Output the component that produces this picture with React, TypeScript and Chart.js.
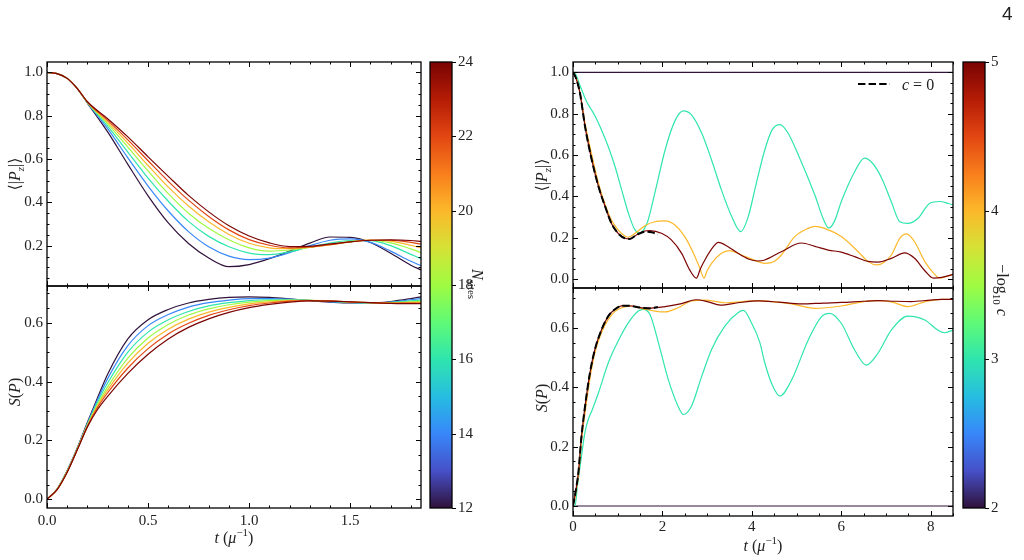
import React, { useEffect, useRef } from "react";
import { Chart, registerables } from "chart.js";

Chart.register(...registerables);

const W = 1024;
const H = 560;
const FONT = '"Liberation Serif", "DejaVu Serif", serif';
const INK = "#222";

// ---------- left column: system-size scan ----------
const N_SITES = [12, 14, 16, 18, 20, 22, 24];

const T_PZ = [0, 0.05, 0.1, 0.15, 0.2, 0.3, 0.4, 0.5, 0.6, 0.7, 0.8, 0.9, 1.0, 1.1, 1.2, 1.3, 1.4, 1.5, 1.6, 1.7, 1.8, 1.85];
const PZ_N12 = [1, 0.994, 0.972, 0.925, 0.858, 0.725, 0.575, 0.43, 0.305, 0.21, 0.143, 0.103, 0.113, 0.14, 0.175, 0.212, 0.24, 0.238, 0.215, 0.165, 0.11, 0.088];
const PZ_N14 = [1, 0.994, 0.972, 0.925, 0.859, 0.74, 0.605, 0.475, 0.36, 0.265, 0.195, 0.152, 0.136, 0.143, 0.168, 0.2, 0.225, 0.231, 0.215, 0.175, 0.128, 0.108];
const PZ_N16 = [1, 0.994, 0.972, 0.925, 0.86, 0.752, 0.632, 0.512, 0.405, 0.312, 0.243, 0.195, 0.166, 0.159, 0.172, 0.194, 0.212, 0.224, 0.223, 0.2, 0.16, 0.14];
const PZ_N18 = [1, 0.994, 0.972, 0.925, 0.861, 0.762, 0.655, 0.545, 0.44, 0.35, 0.28, 0.227, 0.19, 0.175, 0.18, 0.192, 0.206, 0.219, 0.225, 0.213, 0.185, 0.168];
const PZ_N20 = [1, 0.994, 0.972, 0.925, 0.862, 0.77, 0.673, 0.57, 0.47, 0.383, 0.31, 0.252, 0.211, 0.19, 0.186, 0.193, 0.204, 0.218, 0.226, 0.221, 0.202, 0.19];
const PZ_N22 = [1, 0.994, 0.972, 0.925, 0.863, 0.778, 0.688, 0.592, 0.497, 0.41, 0.335, 0.273, 0.228, 0.202, 0.19, 0.194, 0.205, 0.217, 0.225, 0.225, 0.215, 0.207];
const PZ_N24 = [1, 0.994, 0.972, 0.925, 0.864, 0.786, 0.702, 0.61, 0.52, 0.432, 0.356, 0.292, 0.245, 0.213, 0.196, 0.197, 0.208, 0.218, 0.225, 0.227, 0.224, 0.22];

const T_S = [0, 0.05, 0.1, 0.15, 0.2, 0.25, 0.3, 0.4, 0.5, 0.6, 0.7, 0.8, 0.9, 1.0, 1.1, 1.2, 1.3, 1.4, 1.5, 1.6, 1.7, 1.8, 1.85];
const S_N12 = [0, 0.035, 0.098, 0.175, 0.262, 0.345, 0.425, 0.545, 0.61, 0.645, 0.667, 0.679, 0.686, 0.688, 0.686, 0.681, 0.675, 0.67, 0.667, 0.667, 0.672, 0.682, 0.688];
const S_N14 = [0, 0.035, 0.097, 0.173, 0.258, 0.338, 0.41, 0.522, 0.59, 0.628, 0.653, 0.668, 0.677, 0.682, 0.682, 0.68, 0.676, 0.671, 0.668, 0.667, 0.67, 0.678, 0.682];
const S_N16 = [0, 0.035, 0.096, 0.172, 0.255, 0.33, 0.395, 0.5, 0.568, 0.61, 0.638, 0.657, 0.668, 0.675, 0.678, 0.678, 0.676, 0.672, 0.669, 0.667, 0.669, 0.674, 0.677];
const S_N18 = [0, 0.034, 0.095, 0.171, 0.252, 0.323, 0.382, 0.48, 0.548, 0.594, 0.626, 0.647, 0.661, 0.67, 0.675, 0.677, 0.676, 0.673, 0.67, 0.668, 0.668, 0.671, 0.673];
const S_N20 = [0, 0.034, 0.094, 0.17, 0.25, 0.318, 0.372, 0.463, 0.53, 0.578, 0.612, 0.636, 0.652, 0.664, 0.671, 0.675, 0.676, 0.674, 0.671, 0.668, 0.667, 0.669, 0.67];
const S_N22 = [0, 0.033, 0.093, 0.169, 0.248, 0.312, 0.362, 0.446, 0.512, 0.562, 0.598, 0.625, 0.644, 0.658, 0.667, 0.673, 0.675, 0.674, 0.671, 0.668, 0.666, 0.667, 0.667];
const S_N24 = [0, 0.033, 0.092, 0.168, 0.246, 0.305, 0.35, 0.428, 0.493, 0.545, 0.584, 0.613, 0.635, 0.651, 0.662, 0.67, 0.674, 0.673, 0.671, 0.668, 0.666, 0.665, 0.665];

const PZ_BY_N = [PZ_N12, PZ_N14, PZ_N16, PZ_N18, PZ_N20, PZ_N22, PZ_N24];
const S_BY_N = [S_N12, S_N14, S_N16, S_N18, S_N20, S_N22, S_N24];

// ---------- right column: coupling scan at fixed size ([t, value]) ----------
const NEG_LOG_C = [2, 3, 4, 5];

const PZ_C0: [number, number][] = [[0, 1], [0.05, 0.98], [0.1, 0.95], [0.16, 0.895], [0.27, 0.737], [0.42, 0.576], [0.57, 0.447], [0.72, 0.35], [0.86, 0.269], [1.01, 0.221], [1.16, 0.197], [1.27, 0.194], [1.42, 0.213], [1.61, 0.229], [1.76, 0.226], [1.9, 0.216]];
const PZ_C2: [number, number][] = [[0, 1], [8.5, 1]];
const PZ_C3: [number, number][] = [[0, 1.0], [0.05, 0.995], [0.15, 0.94], [0.3, 0.86], [0.38, 0.83], [0.49, 0.79], [0.64, 0.72], [0.79, 0.64], [0.94, 0.544], [1.09, 0.43], [1.24, 0.318], [1.38, 0.24], [1.5, 0.222], [1.6, 0.245], [1.68, 0.285], [1.83, 0.415], [2.06, 0.624], [2.28, 0.765], [2.47, 0.813], [2.65, 0.794], [2.88, 0.705], [3.1, 0.576], [3.32, 0.431], [3.55, 0.302], [3.75, 0.229], [3.92, 0.302], [4.1, 0.463], [4.29, 0.624], [4.45, 0.72], [4.63, 0.747], [4.8, 0.71], [5.04, 0.6], [5.41, 0.406], [5.6, 0.29], [5.72, 0.247], [5.85, 0.28], [6.0, 0.374], [6.3, 0.519], [6.52, 0.585], [6.7, 0.56], [6.9, 0.49], [7.12, 0.374], [7.31, 0.277], [7.49, 0.269], [7.72, 0.294], [7.98, 0.366], [8.2, 0.375], [8.4, 0.365], [8.5, 0.358]];
const PZ_C4: [number, number][] = [[0, 1], [0.05, 0.985], [0.1, 0.955], [0.17, 0.885], [0.27, 0.753], [0.42, 0.6], [0.57, 0.463], [0.72, 0.36], [0.86, 0.285], [1.0, 0.24], [1.1, 0.218], [1.23, 0.202], [1.39, 0.221], [1.61, 0.258], [1.83, 0.277], [2.06, 0.281], [2.28, 0.261], [2.5, 0.205], [2.73, 0.108], [2.85, 0.045], [2.93, 0.004], [3.0, 0.04], [3.1, 0.076], [3.32, 0.124], [3.5, 0.137], [3.77, 0.116], [4.07, 0.09], [4.29, 0.076], [4.5, 0.085], [4.66, 0.116], [4.96, 0.205], [5.26, 0.245], [5.41, 0.255], [5.63, 0.245], [6.0, 0.205], [6.38, 0.132], [6.6, 0.084], [6.8, 0.068], [6.95, 0.08], [7.12, 0.116], [7.31, 0.197], [7.46, 0.218], [7.64, 0.18], [7.87, 0.084], [8.08, 0.025], [8.2, 0.004], [8.35, 0.012], [8.5, 0.022]];
const PZ_C5: [number, number][] = [[0, 1], [0.05, 0.98], [0.1, 0.95], [0.16, 0.895], [0.27, 0.737], [0.42, 0.576], [0.57, 0.447], [0.72, 0.35], [0.86, 0.269], [1.01, 0.221], [1.16, 0.197], [1.27, 0.194], [1.42, 0.213], [1.6, 0.232], [1.72, 0.234], [1.98, 0.221], [2.2, 0.189], [2.43, 0.124], [2.61, 0.044], [2.76, 0.004], [2.85, 0.05], [2.95, 0.092], [3.14, 0.156], [3.25, 0.177], [3.47, 0.156], [3.69, 0.124], [3.92, 0.097], [4.14, 0.087], [4.29, 0.092], [4.66, 0.132], [5.11, 0.174], [5.41, 0.158], [5.71, 0.14], [6.0, 0.13], [6.3, 0.108], [6.6, 0.085], [6.82, 0.082], [7.12, 0.1], [7.42, 0.126], [7.64, 0.1], [7.87, 0.04], [8.06, 0.004], [8.25, 0.008], [8.4, 0.016], [8.5, 0.022]];

const S_C0: [number, number][] = [[0, 0], [0.06, 0.05], [0.12, 0.112], [0.19, 0.235], [0.27, 0.336], [0.38, 0.449], [0.49, 0.527], [0.64, 0.594], [0.79, 0.639], [0.94, 0.662], [1.12, 0.674], [1.31, 0.673], [1.53, 0.667], [1.72, 0.665], [1.9, 0.67]];
const S_C2: [number, number][] = [[0, 0], [8.5, 0]];
const S_C3: [number, number][] = [[0, 0], [0.045, 0.0], [0.1, 0.07], [0.16, 0.135], [0.27, 0.25], [0.35, 0.295], [0.42, 0.32], [0.57, 0.381], [0.79, 0.482], [1.01, 0.555], [1.24, 0.617], [1.46, 0.656], [1.57, 0.662], [1.72, 0.645], [1.91, 0.55], [2.13, 0.426], [2.35, 0.336], [2.47, 0.308], [2.65, 0.336], [2.88, 0.437], [3.1, 0.527], [3.4, 0.606], [3.69, 0.65], [3.81, 0.658], [3.99, 0.617], [4.18, 0.55], [4.29, 0.482], [4.45, 0.41], [4.63, 0.37], [4.89, 0.424], [5.26, 0.558], [5.56, 0.637], [5.74, 0.648], [6.0, 0.615], [6.3, 0.525], [6.56, 0.474], [6.82, 0.514], [7.12, 0.592], [7.49, 0.639], [7.87, 0.626], [8.16, 0.592], [8.31, 0.583], [8.5, 0.592]];
const S_C4: [number, number][] = [[0, 0], [0.06, 0.04], [0.12, 0.1], [0.19, 0.22], [0.27, 0.314], [0.38, 0.43], [0.49, 0.516], [0.64, 0.585], [0.79, 0.628], [0.94, 0.655], [1.09, 0.667], [1.31, 0.673], [1.61, 0.662], [1.83, 0.656], [2.06, 0.653], [2.35, 0.667], [2.65, 0.69], [2.95, 0.693], [3.4, 0.684], [3.8, 0.688], [4.14, 0.691], [4.5, 0.687], [4.89, 0.68], [5.41, 0.665], [6.0, 0.673], [6.4, 0.685], [6.75, 0.691], [7.12, 0.687], [7.49, 0.671], [7.87, 0.687], [8.24, 0.695], [8.5, 0.695]];
const S_C5: [number, number][] = [[0, 0], [0.06, 0.05], [0.12, 0.112], [0.19, 0.235], [0.27, 0.336], [0.38, 0.449], [0.49, 0.527], [0.64, 0.594], [0.79, 0.639], [0.94, 0.662], [1.12, 0.674], [1.31, 0.673], [1.53, 0.667], [1.75, 0.666], [2.06, 0.671], [2.43, 0.681], [2.75, 0.694], [3.0, 0.688], [3.3, 0.676], [3.69, 0.684], [4.14, 0.69], [4.6, 0.686], [5.11, 0.68], [5.6, 0.683], [6.0, 0.685], [6.5, 0.689], [6.82, 0.691], [7.2, 0.689], [7.57, 0.688], [8.0, 0.693], [8.24, 0.695], [8.5, 0.695]];

// ---------- tick labels ----------
const X_TICKS_LEFT = [0, 0.5, 1.0, 1.5];
const X_TICKS_RIGHT = [0, 2, 4, 6, 8];
const Y_TICKS_PZ_LEFT = [0.2, 0.4, 0.6, 0.8, 1.0];
const Y_TICKS_S = [0, 0.2, 0.4, 0.6];
const Y_TICKS_PZ_RIGHT = [0, 0.2, 0.4, 0.6, 0.8, 1.0];
const CBAR_N_TICKS = [12, 14, 16, 18, 20, 22, 24];
const CBAR_C_TICKS = [2, 3, 4, 5];

// ---------- turbo colour map ----------
const TURBO_STOPS: number[][] = [
  [0, 48, 18, 59],
  [1 / 12, 70, 80, 200],
  [1 / 6, 56, 135, 249],
  [1 / 4, 38, 189, 225],
  [1 / 3, 47, 229, 173],
  [5 / 12, 95, 250, 118],
  [1 / 2, 160, 251, 65],
  [7 / 12, 213, 226, 54],
  [2 / 3, 252, 184, 42],
  [3 / 4, 248, 126, 28],
  [5 / 6, 226, 70, 18],
  [11 / 12, 180, 28, 5],
  [1, 122, 4, 3],
];

function turbo(x: number): string {
  const v = Math.min(1, Math.max(0, x));
  for (let i = 1; i < TURBO_STOPS.length; i++) {
    const a = TURBO_STOPS[i - 1];
    const b = TURBO_STOPS[i];
    if (v <= b[0]) {
      const f = (v - a[0]) / (b[0] - a[0]);
      const c = [1, 2, 3].map((k) => Math.round(a[k] + (b[k] - a[k]) * f));
      return `rgb(${c[0]},${c[1]},${c[2]})`;
    }
  }
  return "rgb(122,4,3)";
}

// ---------- mixed-style text (math-like labels) ----------
type Run = { s: string; it?: boolean; sub?: boolean; sup?: boolean };

const PZ_TITLE: Run[] = [{ s: "⟨|" }, { s: "P", it: true }, { s: "z", it: true, sub: true }, { s: "|⟩" }];
const S_TITLE: Run[] = [{ s: "S", it: true }, { s: "(" }, { s: "P", it: true }, { s: ")" }];
const T_TITLE: Run[] = [{ s: "t", it: true }, { s: " (" }, { s: "μ", it: true }, { s: "−1", sup: true }, { s: ")" }];
const N_TITLE: Run[] = [{ s: "N", it: true }, { s: "sites", sub: true }];
const C_TITLE: Run[] = [{ s: "−log" }, { s: "10", sub: true }, { s: " " }, { s: "c", it: true }];
const LEGEND_C0: Run[] = [{ s: "c", it: true }, { s: " = 0" }];

function drawRuns(ctx: CanvasRenderingContext2D, runs: Run[], x: number, y: number, rot: number, size: number, align: "center" | "left") {
  const fontOf = (r: Run) => `${r.it ? "italic " : ""}${r.sub || r.sup ? Math.round(size * 0.7) : size}px ${FONT}`;
  ctx.save();
  ctx.translate(x, y);
  ctx.rotate(rot);
  ctx.fillStyle = INK;
  ctx.textBaseline = "alphabetic";
  ctx.textAlign = "left";
  const widths = runs.map((r) => {
    ctx.font = fontOf(r);
    return ctx.measureText(r.s).width;
  });
  const total = widths.reduce((a, b) => a + b, 0);
  let cx = align === "center" ? -total / 2 : 0;
  const base = size * 0.35;
  runs.forEach((r, i) => {
    ctx.font = fontOf(r);
    const dy = r.sub ? size * 0.28 : r.sup ? -size * 0.4 : 0;
    ctx.fillText(r.s, cx, base + dy);
    cx += widths[i];
  });
  ctx.restore();
}

// ---------- frame, inward ticks, and extra annotations ----------
type Box = { left: number; top: number; right: number; bottom: number };

const Y_AXIS_W = 46;
const X_AXIS_H = 30;
const CBAR_AXIS_W = 34;

function panelDecor(xMinor: number, yMinor: number, extra?: (ctx: CanvasRenderingContext2D) => void) {
  return {
    id: "panelDecor",
    afterDraw(chart: any) {
      const { ctx, chartArea: a } = chart;
      const xs = chart.scales.x;
      const ys = chart.scales.y;
      ctx.save();
      ctx.strokeStyle = "#000";
      ctx.lineWidth = 1;
      ctx.beginPath();
      const xTick = (v: number, len: number) => {
        const p = Math.round(xs.getPixelForValue(v)) + 0.5;
        ctx.moveTo(p, a.bottom);
        ctx.lineTo(p, a.bottom - len);
        ctx.moveTo(p, a.top);
        ctx.lineTo(p, a.top + len);
      };
      const yTick = (v: number, len: number) => {
        const p = Math.round(ys.getPixelForValue(v)) + 0.5;
        ctx.moveTo(a.left, p);
        ctx.lineTo(a.left + len, p);
        ctx.moveTo(a.right, p);
        ctx.lineTo(a.right - len, p);
      };
      const majorX = xs.ticks.map((t: any) => t.value);
      const majorY = ys.ticks.map((t: any) => t.value);
      majorX.forEach((v: number) => xTick(v, 5));
      majorY.forEach((v: number) => yTick(v, 5));
      const isMajor = (list: number[], v: number, step: number) => list.some((m) => Math.abs(m - v) < step * 0.01);
      for (let k = Math.ceil(xs.min / xMinor); k * xMinor <= xs.max + 1e-9; k++) {
        const v = k * xMinor;
        if (!isMajor(majorX, v, xMinor)) xTick(v, 2.5);
      }
      for (let k = Math.ceil(ys.min / yMinor); k * yMinor <= ys.max + 1e-9; k++) {
        const v = k * yMinor;
        if (!isMajor(majorY, v, yMinor)) yTick(v, 2.5);
      }
      ctx.stroke();
      ctx.lineWidth = 1.3;
      ctx.strokeRect(a.left, a.top, a.right - a.left, a.bottom - a.top);
      ctx.restore();
      if (extra) extra(ctx);
    },
  };
}

function fixedTicks(values: number[]) {
  return (scale: any) => {
    scale.ticks = values.map((v) => ({ value: v }));
  };
}

type PanelSpec = {
  box: Box;
  datasets: any[];
  xRange: [number, number];
  yRange: [number, number];
  xTicks: number[];
  yTicks: number[];
  xDigits: number;
  showX: boolean;
  xMinor: number;
  yMinor: number;
  xPad: number;
  extra?: (ctx: CanvasRenderingContext2D) => void;
};

const NO_GRID = { display: false, drawTicks: false, tickLength: 0 };

function panelConfig(p: PanelSpec): any {
  const tickFont = { family: FONT, size: 15 };
  return {
    type: "line",
    data: { datasets: p.datasets },
    options: {
      animation: false,
      responsive: false,
      events: [],
      layout: {
        padding: {
          left: p.box.left - Y_AXIS_W,
          top: p.box.top,
          right: W - p.box.right,
          bottom: H - p.box.bottom - X_AXIS_H,
        },
      },
      plugins: { legend: { display: false }, tooltip: { enabled: false } },
      elements: { point: { radius: 0 }, line: { borderWidth: 1.2, cubicInterpolationMode: "monotone" } },
      scales: {
        x: {
          type: "linear",
          min: p.xRange[0],
          max: p.xRange[1],
          grid: NO_GRID,
          border: { display: false },
          afterBuildTicks: fixedTicks(p.xTicks),
          afterFit: (s: any) => {
            s.height = X_AXIS_H;
          },
          ticks: {
            display: p.showX,
            font: tickFont,
            color: INK,
            padding: p.xPad,
            maxRotation: 0,
            autoSkip: false,
            callback: (v: any) => Number(v).toFixed(p.xDigits),
          },
        },
        y: {
          type: "linear",
          min: p.yRange[0],
          max: p.yRange[1],
          grid: NO_GRID,
          border: { display: false },
          afterBuildTicks: fixedTicks(p.yTicks),
          afterFit: (s: any) => {
            s.width = Y_AXIS_W;
          },
          ticks: {
            font: tickFont,
            color: INK,
            padding: 4,
            autoSkip: false,
            callback: (v: any) => Number(v).toFixed(1),
          },
        },
      },
    },
    plugins: [panelDecor(p.xMinor, p.yMinor, p.extra)],
  };
}

function colorbarConfig(box: Box, lo: number, hi: number, ticks: number[], title: Run[], titleX: number, titleY: number): any {
  const grad = (c: any) => {
    const area = c.chart.chartArea;
    if (!area) return turbo(0.5);
    const g = c.chart.ctx.createLinearGradient(0, area.bottom, 0, area.top);
    for (let i = 0; i <= 24; i++) g.addColorStop(i / 24, turbo(i / 24));
    return g;
  };
  return {
    type: "bar",
    data: {
      labels: [""],
      datasets: [{ data: [[lo, hi]], backgroundColor: grad, borderWidth: 0, barPercentage: 1, categoryPercentage: 1 }],
    },
    options: {
      animation: false,
      responsive: false,
      events: [],
      layout: {
        padding: { left: box.left, top: box.top, right: W - box.right - CBAR_AXIS_W, bottom: H - box.bottom },
      },
      plugins: { legend: { display: false }, tooltip: { enabled: false } },
      scales: {
        x: {
          grid: NO_GRID,
          border: { display: false },
          ticks: { display: false },
          afterFit: (s: any) => {
            s.height = 0;
          },
        },
        y: {
          position: "right",
          min: lo,
          max: hi,
          grid: NO_GRID,
          border: { display: false },
          afterBuildTicks: fixedTicks(ticks),
          afterFit: (s: any) => {
            s.width = CBAR_AXIS_W;
          },
          ticks: { font: { family: FONT, size: 15 }, color: INK, padding: 6, autoSkip: false },
        },
      },
    },
    plugins: [
      {
        id: "cbarDecor",
        afterDraw(chart: any) {
          const { ctx, chartArea: a } = chart;
          const ys = chart.scales.y;
          ctx.save();
          ctx.strokeStyle = "#000";
          ctx.lineWidth = 1;
          ctx.beginPath();
          ys.ticks.forEach((t: any) => {
            const p = Math.round(ys.getPixelForValue(t.value)) + 0.5;
            ctx.moveTo(a.right, p);
            ctx.lineTo(a.right + 4, p);
          });
          ctx.stroke();
          ctx.lineWidth = 1.3;
          ctx.strokeRect(a.left, a.top, a.right - a.left, a.bottom - a.top);
          ctx.restore();
          drawRuns(ctx, title, titleX, titleY, Math.PI / 2, 16, "center");
        },
      },
    ],
  };
}

// ---------- dataset builders ----------
function sizeSeries(t: number[], rows: number[][]) {
  return N_SITES.map((n, i) => ({
    data: t.map((x, j) => ({ x, y: rows[i][j] })),
    borderColor: turbo((n - 12) / 12),
    order: N_SITES.length - i,
  }));
}

function couplingSeries(c0: [number, number][], byC: [number, number][][]) {
  const sets: any[] = NEG_LOG_C.map((nl, i) => ({
    data: byC[i].map(([x, y]) => ({ x, y })),
    borderColor: turbo((nl - 2) / 3),
    order: NEG_LOG_C.length - i + 1,
  }));
  sets.push({
    data: c0.map(([x, y]) => ({ x, y })),
    borderColor: "#000",
    borderWidth: 2,
    borderDash: [7.4, 3.2],
    order: 0,
  });
  return sets;
}

// ---------- layout ----------
const LEFT_TOP: Box = { left: 47, top: 62, right: 421, bottom: 286 };
const LEFT_BOT: Box = { left: 47, top: 286, right: 421, bottom: 508 };
const RIGHT_TOP: Box = { left: 573, top: 62, right: 953, bottom: 288 };
const RIGHT_BOT: Box = { left: 573, top: 288, right: 953, bottom: 516 };
const CBAR_N: Box = { left: 430, top: 62, right: 452, bottom: 508 };
const CBAR_C: Box = { left: 963, top: 62, right: 985, bottom: 508 };

const configs: (() => any)[] = [
  () =>
    panelConfig({
      box: LEFT_TOP,
      datasets: sizeSeries(T_PZ, PZ_BY_N),
      xRange: [0, 1.85],
      yRange: [0.014, 1.0475],
      xTicks: X_TICKS_LEFT,
      yTicks: Y_TICKS_PZ_LEFT,
      xDigits: 1,
      showX: false,
      xMinor: 0.1,
      yMinor: 0.05,
      xPad: 4,
      extra: (ctx) => drawRuns(ctx, PZ_TITLE, 14, 174, -Math.PI / 2, 16, "center"),
    }),
  () =>
    panelConfig({
      box: LEFT_BOT,
      datasets: sizeSeries(T_S, S_BY_N),
      xRange: [0, 1.85],
      yRange: [-0.0296, 0.7247],
      xTicks: X_TICKS_LEFT,
      yTicks: Y_TICKS_S,
      xDigits: 1,
      showX: true,
      xMinor: 0.1,
      yMinor: 0.05,
      xPad: 4,
      extra: (ctx) => {
        drawRuns(ctx, S_TITLE, 14, 392, -Math.PI / 2, 16, "center");
        drawRuns(ctx, T_TITLE, 234, 537, 0, 16, "center");
      },
    }),
  () =>
    panelConfig({
      box: RIGHT_TOP,
      datasets: couplingSeries(PZ_C0, [PZ_C2, PZ_C3, PZ_C4, PZ_C5]),
      xRange: [0, 8.5],
      yRange: [-0.0436, 1.0498],
      xTicks: X_TICKS_RIGHT,
      yTicks: Y_TICKS_PZ_RIGHT,
      xDigits: 0,
      showX: false,
      xMinor: 0.5,
      yMinor: 0.05,
      xPad: 2,
      extra: (ctx) => {
        drawRuns(ctx, PZ_TITLE, 541, 175, -Math.PI / 2, 16, "center");
        ctx.save();
        ctx.strokeStyle = "#000";
        ctx.lineWidth = 2;
        ctx.setLineDash([7.4, 3.2]);
        ctx.beginPath();
        ctx.moveTo(858, 84);
        ctx.lineTo(890, 84);
        ctx.stroke();
        ctx.restore();
        drawRuns(ctx, LEGEND_C0, 902, 84, 0, 16, "left");
      },
    }),
  () =>
    panelConfig({
      box: RIGHT_BOT,
      datasets: couplingSeries(S_C0, [S_C2, S_C3, S_C4, S_C5]),
      xRange: [0, 8.5],
      yRange: [-0.0336, 0.7336],
      xTicks: X_TICKS_RIGHT,
      yTicks: Y_TICKS_S,
      xDigits: 0,
      showX: true,
      xMinor: 0.5,
      yMinor: 0.05,
      xPad: 2,
      extra: (ctx) => {
        drawRuns(ctx, S_TITLE, 541, 398, -Math.PI / 2, 16, "center");
        drawRuns(ctx, T_TITLE, 763, 545, 0, 16, "center");
      },
    }),
  () => colorbarConfig(CBAR_N, 12, 24, CBAR_N_TICKS, N_TITLE, 478, 284),
  () => colorbarConfig(CBAR_C, 2, 5, CBAR_C_TICKS, C_TITLE, 1003, 290),
];

function ChartLayer({ make }: { make: () => any }) {
  const ref = useRef<HTMLCanvasElement | null>(null);
  useEffect(() => {
    if (!ref.current) return;
    const chart = new Chart(ref.current, make());
    return () => chart.destroy();
  }, [make]);
  return <canvas ref={ref} width={W} height={H} style={{ position: "absolute", left: 0, top: 0, width: W, height: H }} />;
}

export default function App() {
  return (
    <div style={{ position: "fixed", left: 0, top: 0, width: W, height: H, background: "#fff", overflow: "hidden" }}>
      {configs.map((make, i) => (
        <ChartLayer key={i} make={make} />
      ))}
      <div
        style={{
          position: "absolute",
          left: 1002,
          top: 4,
          fontFamily: '"Liberation Sans", Arial, sans-serif',
          fontSize: 19,
          lineHeight: "20px",
          color: INK,
        }}
      >
        4
      </div>
    </div>
  );
}
